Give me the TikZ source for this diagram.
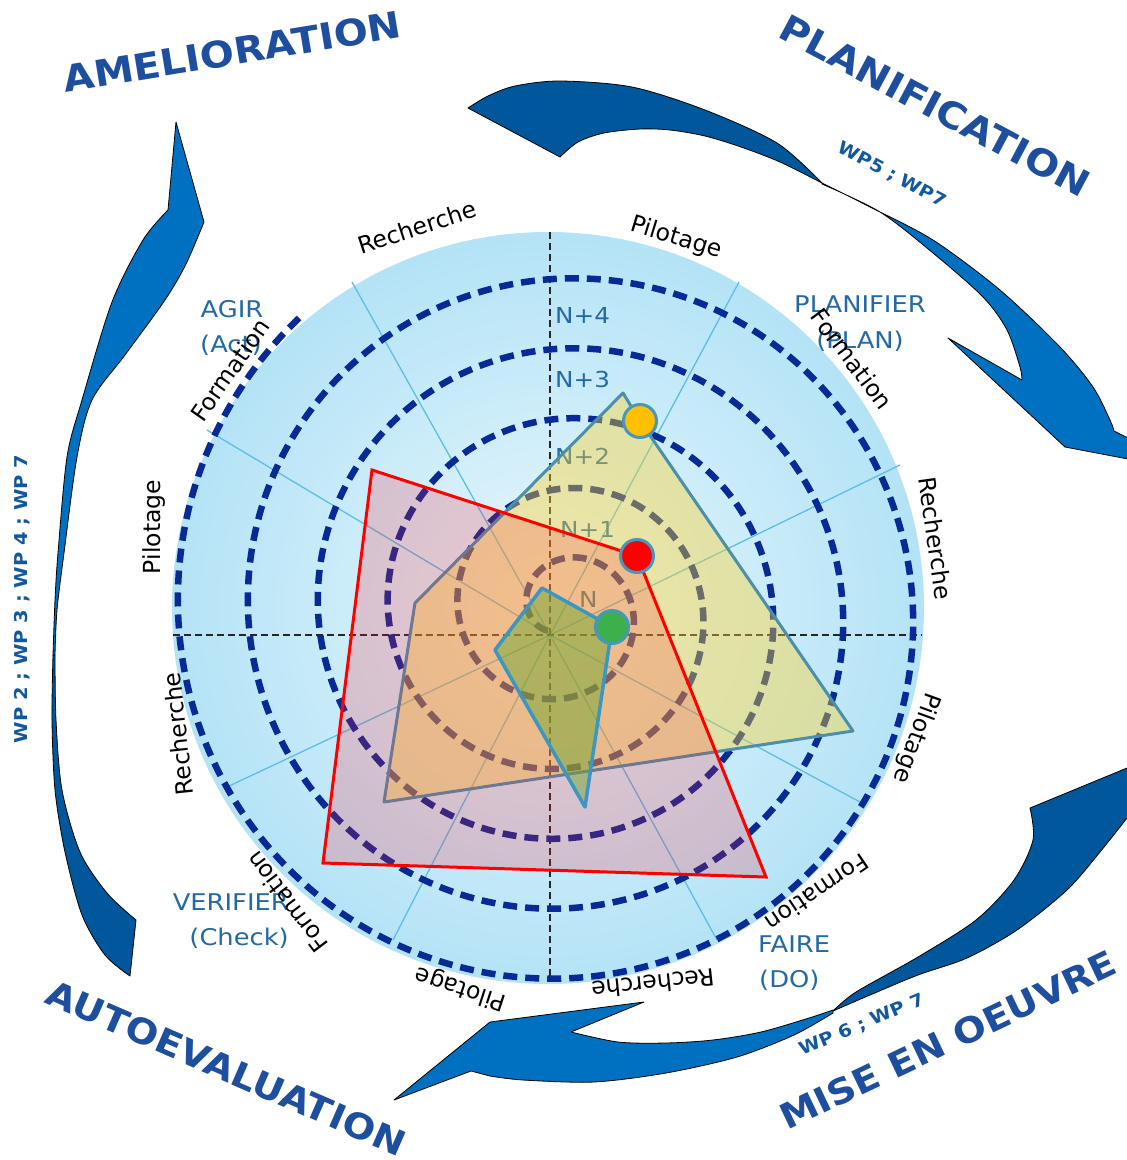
\documentclass[tikz,border=0pt]{standalone}
\usepackage{fontspec}
\setmainfont{DejaVu Sans}
\newfontfamily\catf{DejaVu Sans}
\newfontfamily\widef[FakeStretch=1.12]{DejaVu Sans}
\newfontfamily\boldf[FakeStretch=1.1]{DejaVu Sans}
\definecolor{arrowfront}{RGB}{0,112,192}
\definecolor{arrowback}{RGB}{0,87,155}
\definecolor{bigblue}{RGB}{30,78,158}
\definecolor{wpblue}{RGB}{18,88,160}
\definecolor{pdcablue}{RGB}{35,105,168}
\definecolor{diskin}{RGB}{232,247,253}
\definecolor{diskout}{RGB}{180,227,246}
\definecolor{spokec}{RGB}{92,190,232}
\definecolor{spiralc}{RGB}{8,42,150}
\definecolor{polyborder}{RGB}{74,144,172}
\definecolor{greenborder}{RGB}{60,150,195}
\definecolor{yellowfill}{RGB}{255,210,40}
\definecolor{pinkfill}{RGB}{255,25,40}
\definecolor{greenfill}{RGB}{112,168,50}
\definecolor{dotborder}{RGB}{70,150,190}
\definecolor{dotyellow}{RGB}{255,192,0}
\definecolor{dotred}{RGB}{255,0,0}
\definecolor{dotgreen}{RGB}{60,176,74}
\begin{document}
\begin{tikzpicture}[x=1pt,y=-1pt,
  arrowpart/.style={draw=black,line width=0.8pt,line join=round},
  arrfront/.style={arrowpart,fill=arrowfront},
  arrback/.style={arrowpart,fill=arrowback},
  spokeline/.style={draw=spokec,line width=1.3pt},
  axisline/.style={draw=black!85,line width=1.1pt,dash pattern=on 7pt off 4pt},
  catlabel/.style={font=\catf\fontsize{23.5}{28}\selectfont,text=black,inner sep=0pt},
  pdca/.style={font=\widef\fontsize{23}{28}\selectfont,text=pdcablue,inner sep=0pt},
  nlabel/.style={font=\widef\fontsize{22}{26}\selectfont,text=pdcablue,inner sep=0pt,anchor=base west},
  bigl/.style={font=\boldf\bfseries\fontsize{#1}{#1}\selectfont,text=bigblue,inner sep=0pt},
  wpl/.style={font=\boldf\bfseries\fontsize{17.7}{20}\selectfont,text=wpblue,inner sep=0pt},
  dotc/.style={circle,draw=dotborder,line width=3pt,fill=#1,minimum size=33pt,inner sep=0pt},
  polyline/.style={line width=3pt,line join=round},
]
\useasboundingbox (0,0) rectangle (1127,1160);
\fill[white] (0,0) rectangle (1127,1160);
\clip (0,0) rectangle (1127,1160);

% ---------------- big arrows ----------------
% PLANIFICATION arrow
\path[arrback] (468,108) -- (560,157) -- plot[smooth] coordinates {(560,157) (578,142) (604,133) (640,129) (670,130) (705,136) (741,147) (780,162) (822,183)} -- plot[smooth] coordinates {(822,183) (777,143) (705,110) (632,87) (560,81) (515,86) (488,96) (468,108)} -- cycle;
\path[arrfront] (822,183) -- plot[smooth] coordinates {(822,183) (870,207) (933,240) (1000,290) (1060,347) (1093,387) (1110,420) (1114,431)} -- (1128,438) -- (1170,452) -- (1128,459) -- (1065,447) -- (948,338) -- plot[smooth] coordinates {(1022,380) (1020,367) (1007,330) (983,297) (933,253) (880,212) (822,184)} -- cycle;
% MISE EN OEUVRE arrow
\path[arrback] (1030,808) -- (1127,768) -- (1145,772) -- (1145,810) -- plot[smooth] coordinates {(1127,818) (1100,852) (1067,890) (1017,930) (967,958) (918,975) (870,995) (833,1011)} -- plot[smooth] coordinates {(833,1011) (856,992) (918,957) (976,920) (1014,880) (1033,840) (1030,808)} -- cycle;
\path[arrfront] (833,1010) -- plot[smooth] coordinates {(833,1010) (809,1018) (761,1032) (713,1040) (666,1043) (618,1042) (571,1032)} -- (644,1002) -- (490,1022) -- (394,1100) -- (471,1071) -- plot[smooth] coordinates {(490,1076) (523,1080) (594,1082) (666,1073) (737,1057) (794,1035) (833,1013)} -- cycle;
% AMELIORATION arrow
\path[arrback] (130,976) -- (136,920) -- plot[smooth] coordinates {(136,920) (107,893) (80,852) (62,790) (56,720) (55,655)} -- plot[smooth] coordinates {(53,655) (52,720) (55,790) (65,852) (82,915) (105,955) (130,976)} -- cycle;
\path[arrfront] (53,655) -- plot[smooth] coordinates {(53,655) (55,600) (58,553) (67,457) (82,400) (112,302) (143,240) (168,210)} -- (176,122) -- (204,222) -- plot[smooth] coordinates {(204,222) (186,264) (165,300) (125,355) (92,400) (77,457) (64,553) (57,610) (55,655)} -- cycle;

% ---------------- disk ----------------
\path[shading=radial,inner color=diskin,outer color=diskout] (548,608) circle[radius=376];
\coordinate (ctr) at (550,635);
\foreach \p in {(900,465),(739,282),(352,282),(207,430),(227,787),(393,940),(717,940),(860,802)}
  \draw[spokeline] (ctr) -- \p;
\draw[axisline] (173,635) -- (922,635);
\draw[axisline] (550,232) -- (550,982);

% spiral of levels
\draw[spiralc,line width=6.5pt,dash pattern=on 14pt off 8pt]
  plot[domain=132:2050,samples=700,smooth,variable=\t]
  ({563+(420-0.19444*\t)*cos(\t)},{611-(420-0.19444*\t)*sin(\t)});

% level labels
\node[nlabel] (n4) at (555,323) {N+4};
\node[nlabel] (n3) at (555,387) {N+3};
\node[nlabel] (n2) at (555,464) {N+2};
\node[nlabel] (n1) at (560,537) {N+1};
\node[nlabel] (n0) at (579,607) {N};

% ---------------- polygons ----------------
\path[polyline,draw=polyborder,fill=yellowfill,fill opacity=0.4] (623,393) -- (640,421) -- (853,731) -- (384,802) -- (415,603) -- cycle;
\path[polyline,draw=red,fill=pinkfill,fill opacity=0.2,line join=miter] (372,470) -- (637,556) -- (766,877) -- (323,863) -- cycle;
\path[polyline,draw=greenborder,line width=3.5pt,fill=greenfill,fill opacity=0.5] (542,588) -- (612,627) -- (585,807) -- (495,650) -- cycle;

\node[dotc=dotyellow] (dy) at (640,421) {};
\node[dotc=dotred] (dr) at (637,556) {};
\node[dotc=dotgreen] (dg) at (612,627) {};

% ---------------- PDCA labels ----------------
\node[pdca,anchor=base] (agir) at (232,317) {AGIR};
\node[pdca,anchor=base] (act) at (231,352) {(Act)};
\node[pdca,anchor=base] (planifier) at (860,312) {PLANIFIER};
\node[pdca,anchor=base] (plan) at (860,348) {(PLAN)};
\node[pdca,anchor=base east] (verifier) at (289,910) {VERIFIER};
\node[pdca,anchor=base east] (check) at (289,945) {(Check)};
\node[pdca,anchor=base west] (faire) at (758,952) {FAIRE};
\node[pdca,anchor=base west] (do) at (759,987) {(DO)};

% ---------------- category labels ----------------
\node[catlabel,rotate=18] (c1) at (417,227) {Recherche};
\node[catlabel,rotate=-17] (c2) at (676,238) {Pilotage};
\node[catlabel,rotate=-53] (c3) at (852,359) {Formation};
\node[catlabel,rotate=-82] (c4) at (936,538) {Recherche};
\node[catlabel,rotate=-110] (c5) at (916,738) {Pilotage};
\node[catlabel,rotate=-146] (c6) at (817,893) {Formation};
\node[catlabel,rotate=-174] (c7) at (653,984) {Recherche};
\node[catlabel,rotate=162] (c8) at (461,988) {Pilotage};
\node[catlabel,rotate=127] (c9) at (287,902) {Formation};
\node[catlabel,rotate=96] (c10) at (178,734) {Recherche};
\node[catlabel,rotate=90] (c11) at (154,527) {Pilotage};
\node[catlabel,rotate=55] (c12) at (230,370) {Formation};

% ---------------- big labels ----------------
\node[bigl=36.5,rotate=9.3] (amel) at (232,52) {AMELIORATION};
\node[bigl=36.5,rotate=-28] (planif) at (935,106) {PLANIFICATION};
\node[bigl=35,rotate=-23.5] (autoev) at (226,1068) {AUTOEVALUATION};
\node[bigl=35,rotate=25.5] (mise) at (948,1040) {MISE EN OEUVRE};

\node[wpl,rotate=-28] (wpa) at (892,175) {WP5 ; WP7};
\node[wpl,rotate=90] (wpb) at (22,599) {WP 2 ; WP 3 ; WP 4 ; WP 7};
\node[wpl,rotate=23] (wpc) at (862,1025) {WP 6 ; WP 7};
\end{tikzpicture}
\end{document}
